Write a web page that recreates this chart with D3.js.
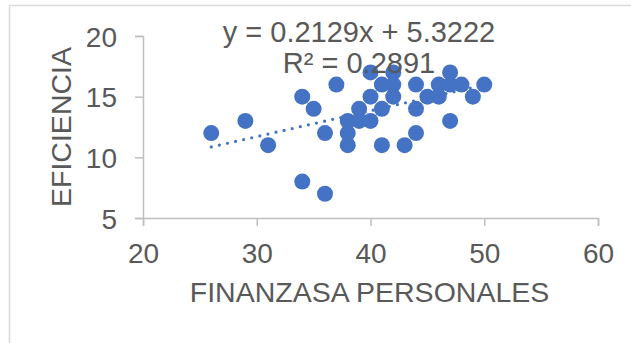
<!DOCTYPE html>
<html>
<head>
  <meta charset="UTF-8">
  <style>
    body {
      margin: 0;
      background: #fff;
      font-family: 'Liberation Sans', Arial, sans-serif;
    }
    .tick-label, .axis-title, .trend-label {
      fill: #595959;
    }
  </style>
  <script src="https://d3js.org/d3.v7.min.js"></script>
</head>
<body>
<div id="chart"></div>
<script>
// data
const finanzas = [26, 29, 31, 34, 34, 35, 36, 36, 37, 38, 38, 38, 39, 39, 40, 40, 40, 41, 41, 41,
                  42, 42, 42, 43, 44, 44, 44, 45, 46, 46, 47, 47, 47, 48, 49, 50];
const eficiencia = [12, 13, 11, 15, 8, 14, 12, 7, 16, 13, 12, 11, 14, 13, 17, 15, 13, 16, 14, 11,
                    17, 16, 15, 11, 16, 14, 12, 15, 16, 15, 17, 16, 13, 16, 15, 16];
const xTicks = [20, 30, 40, 50, 60];
const yTicks = [5, 10, 15, 20];
const trendSlope = 0.2129;
const trendIntercept = 5.3222;
const trendText = ['y = 0.2129x + 5.3222', 'R² = 0.2891'];

const width = 631, height = 343;
const blue = '#4472C4';
const axisGray = '#bfbfbf';

const svg = d3.select('#chart').append('svg')
  .attr('width', width)
  .attr('height', height);

// chart frame (runs past the window edges)
svg.append('rect')
  .attr('x', 9.5).attr('y', 5.5)
  .attr('width', 640).attr('height', 360)
  .attr('fill', 'none')
  .attr('stroke', '#d9d9d9')
  .attr('stroke-width', 1.5);

const x = d3.scaleLinear().domain([20, 60]).range([143, 598]);
const y = d3.scaleLinear().domain([5, 20]).range([218, 36]);

// axes
const xAxis = svg.append('g')
  .attr('transform', `translate(0,${y(5)})`)
  .call(d3.axisBottom(x).tickValues(xTicks).tickSize(8).tickPadding(17).tickFormat(d3.format('d')));
const yAxis = svg.append('g')
  .attr('transform', `translate(${x(20)},0)`)
  .call(d3.axisLeft(y).tickValues(yTicks).tickSize(8).tickPadding(18).tickFormat(d3.format('d')));

[xAxis, yAxis].forEach(g => {
  g.select('.domain').attr('stroke', axisGray).attr('stroke-width', 1.5);
  g.selectAll('.tick line').attr('stroke', axisGray).attr('stroke-width', 1.5);
  g.selectAll('.tick text')
    .attr('class', 'tick-label')
    .attr('fill', '#595959')
    .style('font-size', '28px')
    .style('font-family', "'Liberation Sans', Arial, sans-serif");
});
yAxis.selectAll('.tick text').attr('dy', '0.36em');

// trendline over the range of the data
const xr = d3.extent(finanzas);
svg.append('line')
  .attr('x1', x(xr[0])).attr('y1', y(trendSlope * xr[0] + trendIntercept))
  .attr('x2', x(xr[1])).attr('y2', y(trendSlope * xr[1] + trendIntercept))
  .attr('stroke', blue)
  .attr('stroke-width', 3.2)
  .attr('stroke-linecap', 'round')
  .attr('stroke-dasharray', '0 8.3');

// points
svg.append('g').selectAll('circle')
  .data(finanzas.map((v, i) => [v, eficiencia[i]]))
  .join('circle')
  .attr('cx', d => x(d[0]))
  .attr('cy', d => y(d[1]))
  .attr('r', 8)
  .attr('fill', blue);

// trendline label
svg.append('g').selectAll('text')
  .data(trendText)
  .join('text')
  .attr('class', 'trend-label')
  .attr('x', 359)
  .attr('y', (d, i) => 42 + i * 31)
  .attr('text-anchor', 'middle')
  .style('font-size', '29px')
  .text(d => d);

// axis titles
svg.append('text')
  .attr('class', 'axis-title')
  .attr('x', (x(20) + x(60)) / 2 - 1)
  .attr('y', 302)
  .attr('text-anchor', 'middle')
  .style('font-size', '28.5px')
  .text('FINANZASA PERSONALES');

svg.append('text')
  .attr('class', 'axis-title')
  .attr('transform', `translate(71,${(y(5) + y(20)) / 2}) rotate(-90)`)
  .attr('text-anchor', 'middle')
  .style('font-size', '28.5px')
  .text('EFICIENCIA');
</script>
</body>
</html>
